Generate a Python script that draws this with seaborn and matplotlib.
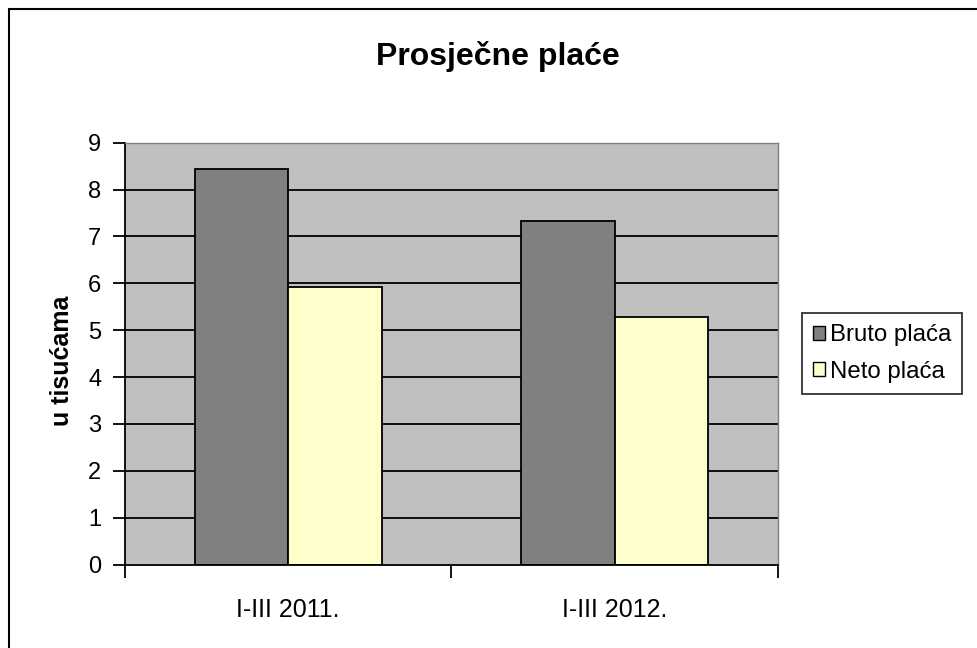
import pandas as pd
import numpy as np
import seaborn as sns
import matplotlib.pyplot as plt
from matplotlib.patches import Rectangle
from matplotlib.lines import Line2D

# data (thousands)
periods = ['I-III 2011.', 'I-III 2012.']
series = ['Bruto plaća', 'Neto plaća']
bruto = [8.43, 7.33]
neto = [5.92, 5.28]
bar_colors = ['#808080', '#FFFFCC']

df = pd.DataFrame({
    'Period': periods * 2,
    'Serija': [series[0]] * len(periods) + [series[1]] * len(periods),
    'Vrijednost': bruto + neto,
})

sns.set_style('white')
plt.rcParams['font.family'] = ['Liberation Sans', 'DejaVu Sans']
plt.rcParams['text.color'] = 'black'
plt.rcParams['xtick.color'] = 'black'
plt.rcParams['ytick.color'] = 'black'
plt.rcParams['axes.labelcolor'] = 'black'

fig = plt.figure(figsize=(9.78, 6.48), dpi=100)
ax = fig.add_axes([0.1278, 0.1287, 0.6677, 0.6511])
ax.set_facecolor('#C0C0C0')

sns.barplot(data=df, x='Period', y='Vrijednost', hue='Serija',
            palette=bar_colors, saturation=1, width=0.573, edgecolor='black',
            linewidth=1.3, ax=ax, legend=False, zorder=3)

# gridlines
ax.set_ylim(0, 9)
ax.set_xlim(-0.5, 1.5)
ax.set_yticks(range(0, 10))
for y in range(1, 10):
    ax.axhline(y, color='black', lw=1.3, zorder=1)

# axes spines: black left/bottom, grey top/right
ax.spines['left'].set_color('black')
ax.spines['left'].set_linewidth(1.3)
ax.spines['bottom'].set_color('black')
ax.spines['bottom'].set_linewidth(1.3)
ax.spines['top'].set_color('#808080')
ax.spines['right'].set_color('#808080')
ax.spines['top'].set_linewidth(1.0)
ax.spines['right'].set_linewidth(1.0)
for s in ax.spines.values():
    s.set_zorder(4)

ax.tick_params(axis='y', direction='out', length=9, width=1.3, color='black',
               labelsize=17, pad=8, left=True)
# category labels without ticks, separator ticks between categories
ax.tick_params(axis='x', which='major', length=0, labelsize=18, pad=24)
ax.set_xticks([-0.5, 0.5, 1.5], minor=True)
ax.tick_params(axis='x', which='minor', direction='out', length=9, width=1.3,
               color='black', bottom=True)

ax.set_xlabel('')
ax.set_ylabel('u tisućama', fontsize=18, fontweight='bold')
ax.yaxis.set_label_coords(-0.078, 0.482)
fig.text(0.509, 0.8997, 'Prosječne plaće', ha='center', va='baseline',
         fontsize=23, fontweight='bold')

# legend
handles = [Rectangle((0, 0), 1, 1, facecolor=c, edgecolor='black', lw=1.0)
           for c in bar_colors]
leg = fig.legend(handles, series, loc='center left',
                 bbox_to_anchor=(0.820, 0.4545), frameon=True, fancybox=False,
                 fontsize=17.3, handlelength=0.5, handleheight=0.5,
                 handletextpad=0.2, labelspacing=0.6, borderpad=0.45,
                 borderaxespad=0)
leg.get_frame().set_edgecolor('black')
leg.get_frame().set_linewidth(1.3)

# chart border (only top and left edges are inside the picture)
x0, y0 = 8.5 / 978, 1 - 8.5 / 648
fig.lines.append(Line2D([x0, 1.0], [y0, y0], transform=fig.transFigure,
                        color='black', lw=1.5))
fig.lines.append(Line2D([x0, x0], [0.0, y0], transform=fig.transFigure,
                        color='black', lw=1.5))

plt.savefig('out.png', dpi=100)
plt.close()
